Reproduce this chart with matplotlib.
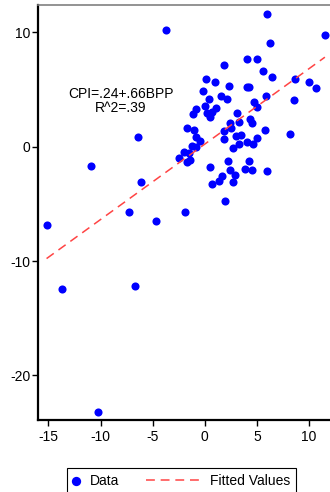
import numpy as np
import matplotlib.pyplot as plt
from matplotlib.legend_handler import HandlerLine2D

plt.rcParams['font.family'] = ['Liberation Sans', 'DejaVu Sans']
plt.rcParams['axes.unicode_minus'] = False

# BPP on the x axis, CPI on the y axis
bpp = [-3.77, 11.51, 5.97, 6.23, 1.82, 4.06, 4.96, 5.59, 6.42, 8.60,
       10.00, 10.64, 0.07, 0.93, 2.33, 4.06, 4.25, -0.16, 1.56, 2.14,
       0.35, 5.85, 8.50, 4.70, 5.03, 0.00, -0.81, 1.05, 0.72, -1.12,
       0.24, 0.53, 3.04, 4.31, 4.55, 2.40, 3.29, 2.49, -1.75, -1.05,
       1.82, 5.75, 8.18, -0.81, 2.97, 3.42, 1.82, 4.99, -0.45, 3.29,
       4.03, 4.63, -1.28, 2.68, -0.89, -1.98, -1.56, -2.46, -1.70, -1.44,
       2.18, 4.25, 0.51, 2.43, 3.86, 4.51, 5.99, 2.88, 1.68, 1.31,
       0.67, 2.70, 1.92, -10.90, -15.18, -13.71, -6.68, -6.16, -7.26, -4.73,
       -1.89, -6.40, -10.29]
cpi = [10.23, 9.76, 11.60, 9.04, 7.12, 7.67, 7.67, 6.64, 6.07, 5.89,
       5.68, 5.16, 5.92, 5.63, 5.33, 5.19, 5.19, 4.90, 4.43, 4.17,
       4.17, 4.41, 4.08, 3.95, 3.50, 3.58, 3.30, 3.43, 3.06, 2.83,
       2.95, 2.62, 2.92, 2.40, 2.10, 2.10, 2.19, 1.68, 1.61, 1.46,
       1.42, 1.49, 1.14, 0.87, 0.94, 1.00, 0.67, 0.76, 0.50, 0.24,
       0.44, 0.24, 0.06, -0.09, -0.03, -0.49, -0.51, -1.01, -1.34, -1.19,
       -1.25, -1.28, -1.77, -2.01, -1.92, -1.99, -2.15, -2.47, -2.52, -3.00,
       -3.26, -3.11, -4.75, -1.69, -6.87, -12.47, -12.20, -3.06, -5.68, -6.52,
       -5.73, 0.82, -23.22]

intercept = 0.24
slope = 0.66
r2 = 0.39

xticks = [-15, -10, -5, 0, 5, 10]
yticks = [-20, -10, 0, 10]

fig = plt.figure(figsize=(3.3, 4.92), dpi=100)
ax = fig.add_axes([0.1152, 0.1463, 0.8848, 0.8435])

pts = ax.scatter(bpp, cpi, s=34, color='#0000ff', linewidths=0, zorder=2)
xfit = np.array([min(bpp), max(bpp)])
fit, = ax.plot(xfit, intercept + slope * xfit, color='#ff4444', lw=1.1,
               dashes=(5.8, 3.8), zorder=3)

eq = f'CPI={intercept:.2f}+{slope:.2f}BPP'.replace('0.', '.')
ax.text(-8.05, 4.0, eq + '\n' + f'R^2={r2:.2f}'.replace('0.', '.'),
        ha='center', va='center', fontsize=10, linespacing=1.0)

ax.set_xlim(-16.0, 12.0)
ax.set_ylim(-23.9, 12.4)
ax.set_xticks(xticks)
ax.set_yticks(yticks)

ax.spines['right'].set_visible(False)
ax.spines['left'].set_linewidth(1.6)
ax.spines['bottom'].set_linewidth(1.6)
ax.spines['top'].set_color('0.5')
ax.spines['top'].set_linewidth(1.2)
ax.tick_params(direction='out', length=4, width=1, labelsize=10)
ax.tick_params(axis='y', pad=1.5)
ax.tick_params(axis='x', pad=3)

leg = fig.legend(handles=[pts, fit], labels=['Data', 'Fitted Values'],
                 loc='upper left', bbox_to_anchor=(0.203, 0.0488), ncol=2,
                 fontsize=10, handlelength=0.5, handletextpad=0.75,
                 columnspacing=5.3, borderpad=0.4, borderaxespad=0,
                 fancybox=False, framealpha=1, edgecolor='black',
                 scatterpoints=1, markerscale=1.15,
                 handler_map={fit: HandlerLine2D(xpad=-3.4)})
leg.get_frame().set_linewidth(0.8)

fig.savefig('out.png', dpi=100)
